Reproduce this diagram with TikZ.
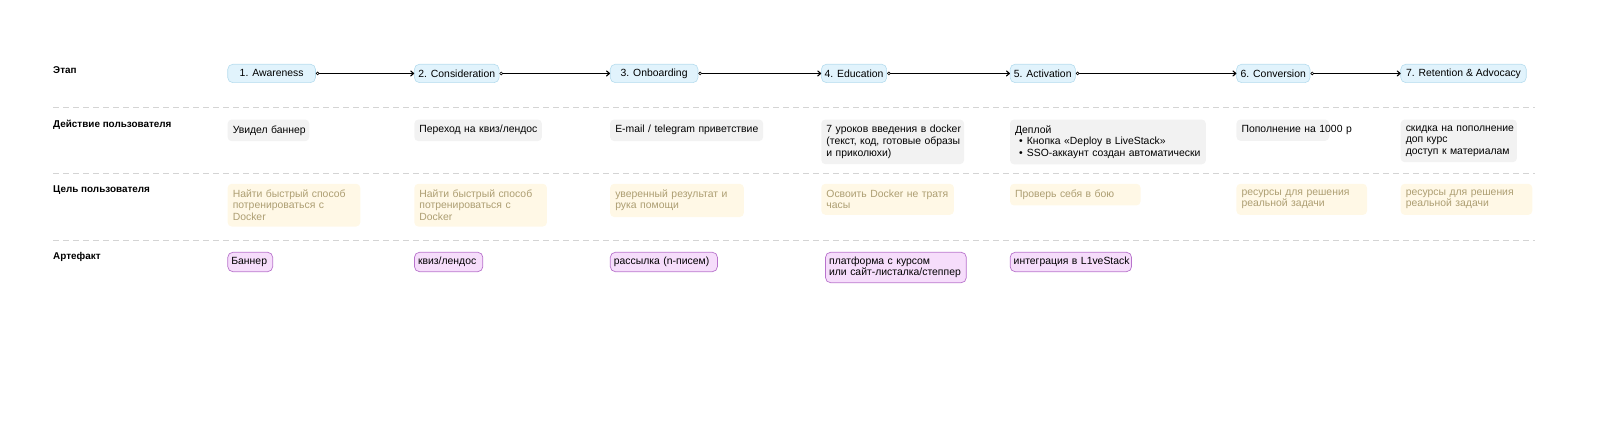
\documentclass[tikz,border=0pt]{standalone}
\usepackage{fontspec}
\setmainfont{Liberation Sans}
\usetikzlibrary{arrows.meta}
\definecolor{stagefill}{HTML}{E1F3FC}
\definecolor{stageline}{HTML}{B5DCEE}
\definecolor{actfill}{HTML}{F2F2F2}
\definecolor{goalfill}{HTML}{FFF8E6}
\definecolor{goaltext}{HTML}{AD9E72}
\definecolor{artfill}{HTML}{F6DDFB}
\definecolor{artline}{HTML}{B873CC}
\definecolor{sepline}{HTML}{D4D4D4}
\newcommand\oneln[1]{\mbox{#1}}
\tikzset{
  rowlabel/.style={anchor=west, inner sep=0pt, font=\fontsize{9.7}{11}\selectfont\bfseries},
  stagebox/.style={draw=stageline, line width=0.6pt, fill=stagefill, rounded corners=5pt,
    minimum height=18pt, inner sep=2pt, anchor=west, font=\fontsize{10.2}{11}\selectfont},
  cellbase/.style={anchor=north west, align=left, inner xsep=5pt, inner ysep=5.8pt,
    rounded corners=4pt, font=\fontsize{10.2}{11.3}\selectfont, minimum height=20pt},
  actbox/.style={cellbase, fill=actfill},
  goalbox/.style={cellbase, fill=goalfill, text=goaltext},
  artbox/.style={cellbase, draw=artline, line width=0.7pt, fill=artfill, inner xsep=3.5pt,
    inner ysep=4.5pt, minimum height=19pt, rounded corners=5pt},
  flow/.style={line width=1.1pt, {Circle[open, length=3.5pt, width=3.5pt, line width=0.6pt]}-{To[length=4pt, width=6pt]}},
  sep/.style={draw=sepline, line width=0.8pt, dash pattern=on 6pt off 4pt}
}
\begin{document}
\begin{tikzpicture}[x=1pt, y=-1pt, scale=1.02, every node/.append style={transform shape}]
\useasboundingbox (0,0) rectangle (1568.63,424.5);
% row labels
\node[rowlabel] (l1) at (52,69) {Этап};
\node[rowlabel] (l2) at (52,122) {Действие пользователя};
\node[rowlabel] (l3) at (52,186) {Цель пользователя};
\node[rowlabel] (l4) at (52,252) {Артефакт};
% separators
\coordinate (d1a) at (52,105); \coordinate (d1b) at (1505,105);
\coordinate (d2a) at (52,170); \coordinate (d2b) at (1505,170);
\coordinate (d3a) at (52,236); \coordinate (d3b) at (1505,236);
\draw[sep] (d1a) -- (d1b);
\draw[sep] (d2a) -- (d2b);
\draw[sep] (d3a) -- (d3b);
% stages
\node[stagebox, minimum width=86pt] (s1) at (223,72) {1. Awareness};
\node[stagebox, minimum width=83pt] (s2) at (406,72) {2. Consideration};
\node[stagebox, minimum width=86pt] (s3) at (598,72) {3. Onboarding};
\node[stagebox, minimum width=64pt] (s4) at (805,72) {4. Education};
\node[stagebox, minimum width=64pt] (s5) at (990,72) {5. Activation};
\node[stagebox, minimum width=72pt] (s6) at (1212,72) {6. Conversion};
\node[stagebox, minimum width=123pt] (s7) at (1373,72) {7. Retention \& Advocacy};
\draw[flow] (s1.east) -- (s2.west);
\draw[flow] (s2.east) -- (s3.west);
\draw[flow] (s3.east) -- (s4.west);
\draw[flow] (s4.east) -- (s5.west);
\draw[flow] (s5.east) -- (s6.west);
\draw[flow] (s6.east) -- (s7.west);
% actions
\node[actbox, text width=70pt] (a1) at (223,117) {\oneln{Увидел баннер}};
\node[actbox, text width=115pt] (a2) at (406,117) {\oneln{Переход на квиз/лендос}};
\node[actbox, text width=140pt] (a3) at (598,117) {\oneln{E-mail / telegram приветствие}};
\node[actbox, text width=130pt] (a4) at (805,117) {\oneln{7 уроков введения в docker}\\\oneln{(текст, код, готовые образы}\\\oneln{и приколюхи)}};
\node[actbox, text width=182pt] (a5) at (990,117) {\oneln{Деплой}\\\oneln{\hspace*{4pt}•\hspace{4pt}Кнопка «Deploy в LiveStack»}\\\oneln{\hspace*{4pt}•\hspace{4pt}SSO-аккаунт создан автоматически}};
\node[actbox, text width=81pt] (a6) at (1212,117) {\oneln{Пополнение на 1000 р}};
\node[actbox, text width=104pt] (a7) at (1373,117) {\oneln{скидка на пополнение}\\\oneln{доп курс}\\\oneln{доступ к материалам}};
% goals
\node[goalbox, text width=120pt] (g1) at (223,180) {\oneln{Найти быстрый способ}\\\oneln{потренироваться с}\\\oneln{Docker}};
\node[goalbox, text width=120pt] (g2) at (406,180) {\oneln{Найти быстрый способ}\\\oneln{потренироваться с}\\\oneln{Docker}};
\node[goalbox, text width=121pt] (g3) at (598,180) {\oneln{уверенный результат и}\\\oneln{рука помощи}};
\node[goalbox, text width=120pt] (g4) at (805,180) {\oneln{Освоить Docker не тратя}\\\oneln{часы}};
\node[goalbox, text width=118pt] (g5) at (990,180) {\oneln{Проверь себя в бою}};
\node[goalbox, text width=118pt] (g6) at (1212,180) {\oneln{ресурсы для решения}\\\oneln{реальной задачи}};
\node[goalbox, text width=119pt] (g7) at (1373,180) {\oneln{ресурсы для решения}\\\oneln{реальной задачи}};
% artefacts
\node[artbox, text width=37pt] (r1) at (223,247) {\oneln{Баннер}};
\node[artbox, text width=60pt] (r2) at (406,247) {\oneln{квиз/лендос}};
\node[artbox, text width=98pt] (r3) at (598,247) {\oneln{рассылка (n-писем)}};
\node[artbox, text width=131pt] (r4) at (809,247) {\oneln{платформа с курсом}\\\oneln{или сайт-листалка/степпер}};
\node[artbox, text width=112pt] (r5) at (990,247) {\oneln{интеграция в L1veStack}};
\end{tikzpicture}
\end{document}
